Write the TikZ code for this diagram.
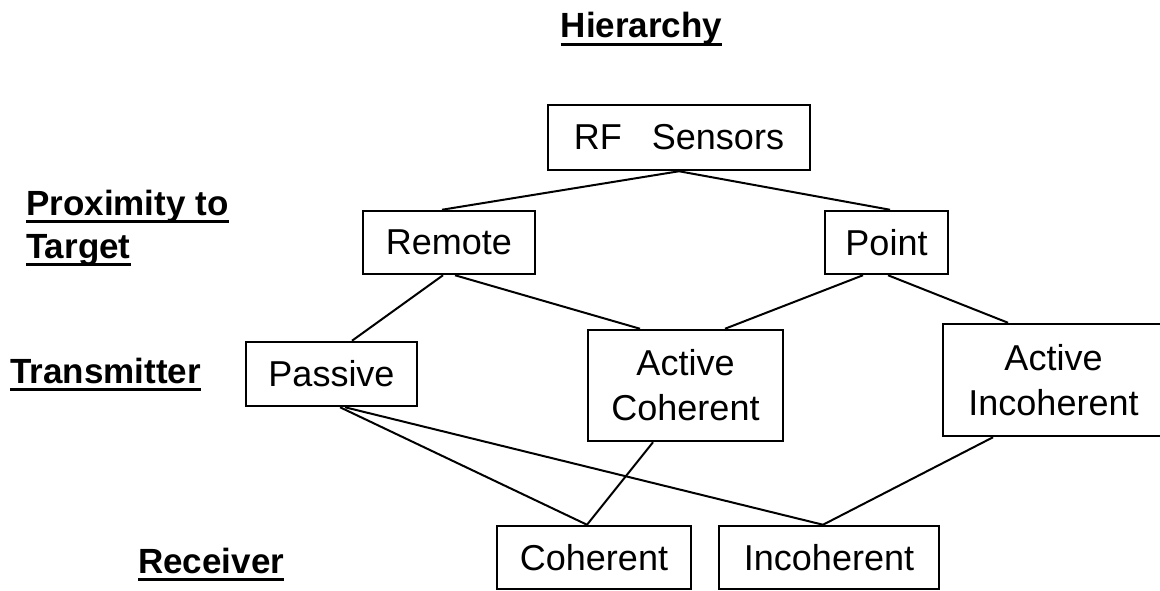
\documentclass[tikz,border=0pt]{standalone}
\usepackage{fontspec}
\setmainfont{Liberation Sans}
\newcommand\myboxfont{\fontsize{36}{45}\selectfont}
\newcommand\mylblfont{\fontsize{35}{42}\selectfont\bfseries}
\tikzset{
  box/.style={draw, line width=2.5pt, inner sep=0pt, align=center, font=\myboxfont},
  lbl/.style={inner sep=0pt, anchor=base west, font=\mylblfont},
  conn/.style={line width=2pt},
  uline/.style={line width=3pt}
}
\begin{document}
\begin{tikzpicture}[x=1pt,y=-1pt]
\useasboundingbox (0,0) rectangle (1160,591);
% title and level labels
\node[lbl, anchor=base] (title) at (641.5,38) {Hierarchy};
\node[lbl] (prox1) at (26,215) {Proximity to};
\node[lbl] (prox2) at (26,258) {Target};
\node[lbl] (trans) at (10,383) {Transmitter};
\node[lbl] (recv) at (138,573) {Receiver};
\foreach \n in {title,prox1,prox2,trans,recv}{
  \draw[uline] ([yshift=-6.5pt]\n.base west) -- ([yshift=-6.5pt]\n.base east);
}
% boxes
\node[box, minimum width=262pt, minimum height=65pt] (rf) at (679,137.5) {RF\hspace{30pt}Sensors};
\node[box, minimum width=172pt, minimum height=63pt] (remote) at (449,242.5) {Remote};
\node[box, minimum width=123pt, minimum height=63pt] (point) at (886.5,242.5) {Point};
\node[box, minimum width=171pt, minimum height=64pt] (passive) at (331.5,374) {Passive};
\node[box, minimum width=195pt, minimum height=111pt] (actcoh) at (685.5,385.5) {Active\\Coherent};
\node[box, minimum width=221pt, minimum height=112pt] (actinc) at (1053.5,380) {Active\\Incoherent\hspace{12pt}};
\node[box, minimum width=194pt, minimum height=63pt] (coh) at (594,557.5) {Coherent};
\node[box, minimum width=220pt, minimum height=63pt] (incoh) at (829,557.5) {Incoherent};
% connectors
\draw[conn] (rf.south) -- ([xshift=-7pt]remote.north);
\draw[conn] (rf.south) -- ([xshift=3.5pt]point.north);
\draw[conn] ([xshift=-6pt]remote.south) -- ([xshift=20.5pt]passive.north);
\draw[conn] ([xshift=6pt]remote.south) -- ([xshift=-45.5pt]actcoh.north);
\draw[conn] ([xshift=-23.5pt]point.south) -- ([xshift=39.5pt]actcoh.north);
\draw[conn] ([xshift=1.5pt]point.south) -- ([xshift=-45.5pt]actinc.north);
\draw[conn] ([xshift=8.5pt]passive.south) -- ([xshift=-7pt]coh.north);
\draw[conn] ([xshift=13.5pt]passive.south) -- ([xshift=-6pt]incoh.north);
\draw[conn] ([xshift=-32.5pt]actcoh.south) -- ([xshift=-7pt]coh.north);
\draw[conn] ([xshift=-60.5pt]actinc.south) -- ([xshift=-6pt]incoh.north);
\end{tikzpicture}
\end{document}
